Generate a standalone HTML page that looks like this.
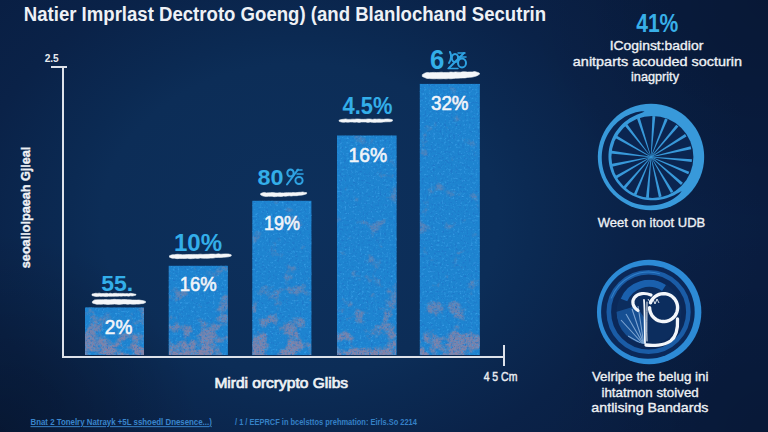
<!DOCTYPE html>
<html><head><meta charset="utf-8">
<style>
html,body{margin:0;padding:0;background:#0a2249;}
body{width:768px;height:432px;overflow:hidden;}
svg{display:block;font-family:"Liberation Sans",sans-serif;}
</style></head>
<body>
<svg width="768" height="432" viewBox="0 0 768 432">
<defs>
<radialGradient id="bg" gradientUnits="userSpaceOnUse" cx="300" cy="220" r="462" gradientTransform="translate(300 220) scale(1 0.788) translate(-300 -220)">
<stop offset="0" stop-color="#0d305c"/>
<stop offset="0.43" stop-color="#0c2d57"/>
<stop offset="0.5" stop-color="#0b2a53"/>
<stop offset="0.714" stop-color="#0a2248"/>
<stop offset="1" stop-color="#091d41"/>
</radialGradient>
<radialGradient id="tr" gradientUnits="userSpaceOnUse" cx="768" cy="0" r="240">
<stop offset="0" stop-color="#000" stop-opacity="0.17"/>
<stop offset="1" stop-color="#000" stop-opacity="0"/>
</radialGradient>
<radialGradient id="br" gradientUnits="userSpaceOnUse" cx="768" cy="432" r="220">
<stop offset="0" stop-color="#000" stop-opacity="0.15"/>
<stop offset="1" stop-color="#000" stop-opacity="0"/>
</radialGradient>
<radialGradient id="bl" gradientUnits="userSpaceOnUse" cx="0" cy="432" r="200">
<stop offset="0" stop-color="#000" stop-opacity="0.25"/>
<stop offset="1" stop-color="#000" stop-opacity="0"/>
</radialGradient>
<linearGradient id="fade" gradientUnits="userSpaceOnUse" x1="0" y1="80" x2="0" y2="355">
<stop offset="0" stop-color="#fff" stop-opacity="0.45"/>
<stop offset="0.7" stop-color="#fff" stop-opacity="0.55"/>
<stop offset="0.88" stop-color="#fff" stop-opacity="0.75"/>
<stop offset="1" stop-color="#fff" stop-opacity="1"/>
</linearGradient>
<filter id="blotch" color-interpolation-filters="sRGB" x="0" y="0" width="768" height="432" filterUnits="userSpaceOnUse">
<feTurbulence type="fractalNoise" baseFrequency="0.06" numOctaves="4" seed="7" result="n"/>
<feColorMatrix in="n" type="matrix" values="0 0 0 0 0  0 0 0 0 0  0 0 0 0 0  1 0 0 0 0" result="na"/>
<feComposite in="na" in2="SourceGraphic" operator="arithmetic" k1="0" k2="6" k3="3.2" k4="-5.5" result="m"/>
<feTurbulence type="fractalNoise" baseFrequency="0.55" numOctaves="1" seed="11" result="n2"/>
<feColorMatrix in="n2" type="matrix" values="0 0 0 0 0  0 0 0 0 0  0 0 0 0 0  0 4 0 0 -1.5" result="s2"/>
<feComposite in="m" in2="s2" operator="arithmetic" k1="0.5" k2="0.75" k3="0" k4="0" result="m2"/>
<feFlood flood-color="#8883a6" result="f"/>
<feComposite in="f" in2="m2" operator="in" result="p"/>
<feComposite in="p" in2="SourceGraphic" operator="in"/>
</filter>
<filter id="grain" color-interpolation-filters="sRGB" x="0" y="0" width="768" height="432" filterUnits="userSpaceOnUse">
<feTurbulence type="fractalNoise" baseFrequency="0.45" numOctaves="2" seed="3" result="n"/>
<feColorMatrix in="n" type="matrix" values="0 0 0 0 0.12  0 0 0 0 0.45  0 0 0 0 0.78  0 0 0 3 -1.65" result="g1"/>
<feColorMatrix in="n" type="matrix" values="0 0 0 0 0.22  0 0 0 0 0.62  0 0 0 0 0.90  0 -3 0 0 1.3" result="g2"/>
<feColorMatrix in="n" type="matrix" values="0 0 0 0 0.50  0 0 0 0 0.47  0 0 0 0 0.64  0 0 -6 0 2.45" result="g3"/>
<feMerge result="g"><feMergeNode in="g1"/><feMergeNode in="g2"/></feMerge>
<feGaussianBlur stdDeviation="0.5"/>
<feComposite in2="SourceGraphic" operator="in"/>
</filter>
</defs>
<rect width="768" height="432" fill="url(#bg)"/>
<rect width="768" height="432" fill="url(#bl)"/>
<rect width="768" height="432" fill="url(#tr)"/>
<rect width="768" height="432" fill="url(#br)"/>

<!-- axes -->
<g fill="#dde2ea">
<rect x="62" y="66" width="2" height="292"/>
<rect x="51" y="66" width="16" height="2"/>
<rect x="62" y="356" width="443" height="2"/>
<rect x="503" y="345" width="2" height="21"/>
</g>

<!-- bars -->

<g fill="#1e84d0">
<rect x="85" y="307.5" width="59" height="47.5"/>
<rect x="168.7" y="265.8" width="59.2" height="89.2"/>
<rect x="252.3" y="200.8" width="59.1" height="154.2"/>
<rect x="337" y="135.5" width="59.6" height="219.5"/>
<rect x="419.8" y="83.9" width="60" height="271.1"/>
</g>
<g fill="url(#fade)" filter="url(#blotch)">
<rect x="85" y="307.5" width="59" height="47.5"/>
<rect x="168.7" y="265.8" width="59.2" height="89.2"/>
<rect x="252.3" y="200.8" width="59.1" height="154.2"/>
<rect x="337" y="135.5" width="59.6" height="219.5"/>
<rect x="419.8" y="83.9" width="60" height="271.1"/>
</g>
<g fill="#fff" filter="url(#grain)">
<rect x="85" y="307.5" width="59" height="47.5"/>
<rect x="168.7" y="265.8" width="59.2" height="89.2"/>
<rect x="252.3" y="200.8" width="59.1" height="154.2"/>
<rect x="337" y="135.5" width="59.6" height="219.5"/>
<rect x="419.8" y="83.9" width="60" height="271.1"/>
</g>

<path d="M92.00,294.06 L93.83,293.63 L95.67,293.27 L97.50,293.38 L99.33,293.14 L101.17,293.54 L103.00,293.52 L104.83,293.39 L106.67,293.30 L108.50,293.66 L110.33,293.24 L112.17,293.71 L114.00,293.36 L115.83,293.27 L117.67,293.48 L119.50,293.39 L121.33,293.38 L123.17,293.42 L125.00,293.69 L126.83,293.58 L128.67,293.75 L130.50,293.31 L132.33,293.59 L134.17,293.88 L136.00,294.36 L136.00,295.09 L134.17,295.58 L132.33,295.98 L130.50,295.85 L128.67,296.16 L126.83,295.88 L125.00,296.11 L123.17,295.89 L121.33,296.15 L119.50,296.07 L117.67,296.24 L115.83,296.13 L114.00,296.26 L112.17,296.27 L110.33,296.37 L108.50,296.13 L106.67,296.61 L104.83,296.51 L103.00,296.16 L101.17,296.38 L99.33,296.18 L97.50,296.56 L95.67,296.39 L93.83,296.02 L92.00,295.53Z" fill="#f4f6f9" stroke="#f4f6f9" stroke-width="0.6" stroke-linejoin="round"/>
<path d="M92.40,301.46 L94.61,299.90 L96.83,299.87 L99.04,299.75 L101.25,299.69 L103.46,299.65 L105.68,299.55 L107.89,299.69 L110.10,299.79 L112.31,299.54 L114.53,299.34 L116.74,299.56 L118.95,299.54 L121.16,299.64 L123.38,299.52 L125.59,299.60 L127.80,299.74 L130.01,299.87 L132.22,300.03 L134.44,300.02 L136.65,300.10 L138.86,299.97 L141.07,300.35 L143.29,300.63 L145.50,301.39 L145.50,302.61 L143.29,303.57 L141.07,303.65 L138.86,304.11 L136.65,304.07 L134.44,304.17 L132.22,304.16 L130.01,303.89 L127.80,304.34 L125.59,303.94 L123.38,303.91 L121.16,304.21 L118.95,304.40 L116.74,304.13 L114.53,304.00 L112.31,304.13 L110.10,304.28 L107.89,304.51 L105.68,304.21 L103.46,304.09 L101.25,304.31 L99.04,304.15 L96.83,304.35 L94.61,303.64 L92.40,302.99Z" fill="#f4f6f9" stroke="#f4f6f9" stroke-width="0.6" stroke-linejoin="round"/>
<path d="M169.50,255.70 L172.07,254.84 L174.64,254.63 L177.21,254.30 L179.78,254.40 L182.35,254.75 L184.93,254.64 L187.50,254.52 L190.07,254.49 L192.64,254.41 L195.21,254.45 L197.78,254.46 L200.35,254.20 L202.92,254.45 L205.49,254.34 L208.06,254.30 L210.63,254.10 L213.20,254.09 L215.77,254.26 L218.35,253.85 L220.92,254.22 L223.49,254.01 L226.06,253.90 L228.63,254.04 L231.20,254.82 L231.20,256.03 L228.63,256.76 L226.06,257.09 L223.49,257.21 L220.92,257.42 L218.35,257.45 L215.77,257.52 L213.20,258.06 L210.63,258.11 L208.06,258.27 L205.49,258.34 L202.92,258.21 L200.35,258.07 L197.78,258.41 L195.21,258.20 L192.64,258.58 L190.07,258.67 L187.50,258.34 L184.93,258.51 L182.35,258.51 L179.78,258.39 L177.21,258.67 L174.64,258.26 L172.07,258.18 L169.50,257.19Z" fill="#f4f6f9" stroke="#f4f6f9" stroke-width="0.6" stroke-linejoin="round"/>
<path d="M260.60,193.62 L262.52,192.86 L264.43,192.44 L266.35,192.90 L268.27,192.86 L270.18,192.77 L272.10,192.61 L274.02,192.65 L275.93,192.96 L277.85,192.94 L279.77,192.69 L281.68,192.89 L283.60,192.94 L285.52,192.77 L287.43,192.69 L289.35,192.63 L291.27,192.81 L293.18,192.56 L295.10,192.68 L297.02,192.60 L298.93,192.33 L300.85,192.29 L302.77,191.98 L304.68,192.44 L306.60,192.60 L306.60,193.84 L304.68,194.38 L302.77,194.93 L300.85,195.17 L298.93,195.32 L297.02,195.69 L295.10,195.69 L293.18,195.68 L291.27,196.08 L289.35,195.79 L287.43,195.93 L285.52,196.26 L283.60,196.04 L281.68,196.49 L279.77,196.42 L277.85,196.25 L275.93,196.58 L274.02,196.66 L272.10,196.25 L270.18,196.33 L268.27,196.29 L266.35,196.55 L264.43,196.31 L262.52,195.83 L260.60,194.85Z" fill="#f4f6f9" stroke="#f4f6f9" stroke-width="0.6" stroke-linejoin="round"/>
<path d="M339.10,120.15 L341.32,119.55 L343.54,119.29 L345.76,118.94 L347.98,119.41 L350.20,119.39 L352.43,119.18 L354.65,119.22 L356.87,118.96 L359.09,119.09 L361.31,119.33 L363.53,119.35 L365.75,119.26 L367.97,118.95 L370.19,119.05 L372.41,119.43 L374.63,119.08 L376.85,119.20 L379.07,119.02 L381.30,119.26 L383.52,119.35 L385.74,119.07 L387.96,118.95 L390.18,119.25 L392.40,119.76 L392.40,121.08 L390.18,121.76 L387.96,121.76 L385.74,121.85 L383.52,121.95 L381.30,122.31 L379.07,122.33 L376.85,122.22 L374.63,122.38 L372.41,122.35 L370.19,122.04 L367.97,122.38 L365.75,122.01 L363.53,122.02 L361.31,122.04 L359.09,122.41 L356.87,122.06 L354.65,122.23 L352.43,122.05 L350.20,121.97 L347.98,122.22 L345.76,122.11 L343.54,122.32 L341.32,122.06 L339.10,121.23Z" fill="#f4f6f9" stroke="#f4f6f9" stroke-width="0.6" stroke-linejoin="round"/>
<path d="M422.30,74.64 L424.68,73.19 L427.06,72.44 L429.44,72.63 L431.82,72.53 L434.20,72.42 L436.57,72.60 L438.95,72.46 L441.33,72.24 L443.71,72.49 L446.09,72.44 L448.47,72.42 L450.85,72.00 L453.23,72.31 L455.61,71.91 L457.99,72.13 L460.37,72.25 L462.75,71.83 L465.12,71.87 L467.50,72.10 L469.88,71.93 L472.26,71.97 L474.64,71.54 L477.02,72.16 L479.40,73.11 L479.40,74.33 L477.02,75.78 L474.64,76.51 L472.26,77.12 L469.88,77.27 L467.50,77.43 L465.12,77.88 L462.75,77.95 L460.37,78.11 L457.99,78.13 L455.61,78.23 L453.23,78.47 L450.85,78.75 L448.47,78.59 L446.09,78.82 L443.71,78.64 L441.33,78.79 L438.95,78.84 L436.57,78.67 L434.20,78.80 L431.82,78.70 L429.44,78.59 L427.06,78.41 L424.68,77.60 L422.30,76.47Z" fill="#f4f6f9" stroke="#f4f6f9" stroke-width="0.6" stroke-linejoin="round"/>
<circle cx="651.0" cy="157.0" r="53.2" fill="#3899da"/>
<path d="M644.61,111.55 L641.66,111.36 L638.75,111.72 L635.88,112.33 L633.05,113.16 L630.27,114.19 L627.57,115.41 L624.94,116.82 L622.41,118.40 L619.97,120.16 L617.66,122.07 L615.46,124.13 L613.41,126.34 L611.49,128.68 L609.72,131.14 L608.12,133.72 L606.68,136.40 L605.42,139.17 L604.33,142.02 L603.43,144.93 L602.72,147.91 L602.19,150.92 L601.86,153.97 L601.73,157.03 L601.79,160.10 L602.05,163.15 L602.51,166.19 L603.15,169.20 L603.99,172.15 L605.02,175.05 L606.23,177.88 L607.62,180.62 L609.18,183.27 L610.90,185.81 L612.79,188.24 L614.82,190.54 L617.00,192.71 L619.31,194.72 L621.74,196.59 L624.28,198.30 L626.93,199.83 L629.67,201.20 L632.48,202.38 L635.36,203.38 L638.30,204.19 L641.27,204.81 L644.28,205.24 L647.30,205.47 L650.32,205.51 L653.34,205.35 L656.33,205.00 L659.28,204.45 L662.19,203.71 L665.03,202.79 L667.80,201.68 L670.47,200.40 L673.05,198.93 L675.50,197.30 L677.82,195.49 L679.96,193.50 L681.71,191.11 L681.71,191.11 L679.10,192.41 L676.66,193.83 L674.19,195.14 L671.67,196.32 L669.11,197.36 L666.50,198.25 L663.86,198.98 L661.19,199.56 L658.50,199.98 L655.80,200.24 L653.09,200.34 L650.40,200.28 L647.71,200.06 L645.05,199.68 L642.43,199.14 L639.84,198.45 L637.31,197.61 L634.83,196.61 L632.43,195.47 L630.10,194.20 L627.85,192.78 L625.70,191.23 L623.64,189.56 L621.69,187.77 L619.86,185.87 L618.14,183.86 L616.55,181.76 L615.09,179.56 L613.76,177.28 L612.57,174.92 L611.53,172.49 L610.63,170.01 L609.89,167.48 L609.30,164.90 L608.87,162.30 L608.59,159.67 L608.47,157.02 L608.51,154.38 L608.71,151.73 L609.07,149.10 L609.59,146.50 L610.26,143.92 L611.09,141.39 L612.07,138.90 L613.20,136.48 L614.48,134.12 L615.90,131.84 L617.45,129.64 L619.14,127.53 L620.96,125.53 L622.89,123.62 L624.95,121.83 L627.11,120.16 L629.37,118.61 L631.72,117.18 L634.17,115.89 L636.69,114.72 L639.28,113.67 L641.94,112.71 L644.61,111.55Z" fill="#0a2450"/>
<circle cx="652.4" cy="157.0" r="41.0" fill="#0b2550"/>
<path d="M655.31,116.20 L652.41,116.00 L650.80,156.99 L651.20,157.01Z" fill="#3899da"/>
<path d="M667.70,119.53 L665.01,118.44 L650.81,156.93 L651.19,157.07Z" fill="#3899da"/>
<path d="M678.47,126.52 L676.24,124.66 L650.85,156.87 L651.15,157.13Z" fill="#3899da"/>
<path d="M686.54,136.50 L685.00,134.04 L650.89,156.83 L651.11,157.17Z" fill="#3899da"/>
<path d="M691.28,149.19 L690.62,146.36 L650.96,156.81 L651.04,157.19Z" fill="#3899da"/>
<path d="M691.72,162.02 L691.97,159.13 L651.02,156.80 L650.98,157.20Z" fill="#3899da"/>
<path d="M688.17,174.35 L689.31,171.69 L651.08,156.82 L650.92,157.18Z" fill="#3899da"/>
<path d="M680.99,184.99 L682.89,182.80 L651.13,156.85 L650.87,157.15Z" fill="#3899da"/>
<path d="M670.87,192.89 L673.36,191.40 L651.17,156.90 L650.83,157.10Z" fill="#3899da"/>
<path d="M658.81,197.28 L661.64,196.62 L651.19,156.96 L650.81,157.04Z" fill="#3899da"/>
<path d="M645.98,197.72 L648.87,197.97 L651.20,157.02 L650.80,156.98Z" fill="#3899da"/>
<path d="M633.65,194.17 L636.31,195.31 L651.18,157.08 L650.82,156.92Z" fill="#3899da"/>
<path d="M623.01,186.99 L625.20,188.89 L651.15,157.13 L650.85,156.87Z" fill="#3899da"/>
<path d="M614.77,176.24 L616.22,178.76 L651.10,157.17 L650.90,156.83Z" fill="#3899da"/>
<path d="M610.59,164.11 L611.20,166.94 L651.04,157.20 L650.96,156.80Z" fill="#3899da"/>
<path d="M610.48,150.56 L610.13,153.44 L650.98,157.20 L651.02,156.80Z" fill="#3899da"/>
<path d="M616.22,135.24 L614.77,137.76 L650.90,157.17 L651.10,156.83Z" fill="#3899da"/>
<path d="M626.90,123.80 L624.62,125.58 L650.84,157.12 L651.16,156.88Z" fill="#3899da"/>
<path d="M639.71,117.56 L636.95,118.45 L650.81,157.06 L651.19,156.94Z" fill="#3899da"/>
<circle cx="649.15" cy="312" r="52.2" fill="#2d8bd6"/>
<circle cx="647.9" cy="312" r="46.8" fill="#0b2858"/>
<circle cx="648.6" cy="312" r="39.8" fill="none" stroke="#1a5ca6" stroke-width="4.6"/>
<circle cx="648.6" cy="312" r="39.8" fill="none" stroke="#3a8fd8" stroke-width="1" stroke-dasharray="60 200" transform="rotate(200 648.6 312)" opacity="0.7"/>
<circle cx="649" cy="312" r="32.5" fill="#0c2d5e"/>
<clipPath id="ic2"><circle cx="649" cy="312" r="32.5"/></clipPath>
<g clip-path="url(#ic2)">
<path d="M624,300 A27,27 0 0 1 664,288" fill="none" stroke="#1a60ad" stroke-width="7"/>
<path d="M616,312 L636,306 L646,320 L646,348 L622,348 Z" fill="#1b5eaa" opacity="0.7"/>
<g stroke="#a9c9ec" stroke-width="1.1" opacity="0.7" fill="none"><path d="M644,345 L621,320"/><path d="M644,345 L626,314"/><path d="M644,345 L632,309"/><path d="M644,345 L638,306"/><path d="M644,345 L628,336"/></g>
</g>
<g fill="none" stroke="#f3f6fa" stroke-linecap="round">
<path d="M650.44,302.81 L651.30,300.92 L652.42,299.17 L653.79,297.61 L655.37,296.27 L657.14,295.18 L659.04,294.36 L661.05,293.83 L663.11,293.61 L665.18,293.69 L667.22,294.08 L669.18,294.76 L671.02,295.73 L672.69,296.95 L674.17,298.42 L675.41,300.08 L676.39,301.91 L677.09,303.86 L677.50,305.89 L677.60,307.97 L677.39,310.03 L676.88,312.04 L676.07,313.96 L675.00,315.73 L673.67,317.33 L672.12,318.71 L670.39,319.84 L668.50,320.71 L666.51,321.29 L664.45,321.57 L662.38,321.55 L660.33,321.21 L658.36,320.58 L656.49,319.66 L654.79,318.48 L653.28,317.06 L651.99,315.43 L650.96,313.63 L650.21,311.69 L649.75,309.67 L649.60,307.60" stroke-width="3.4"/>
<path d="M651,295 C645,292.5 638,293 634.5,297.5 C631.5,301.5 632.5,307 638,310.5" stroke-width="3.2"/>
<path d="M644,300 C645,312 644.5,330 645,343" stroke-width="1.8"/>
<path d="M647,302 C647,314 646.5,330 647,341" stroke-width="1"/>
<path d="M646,345 C653,346 664,345.5 670.5,341 C676,337 678,329 677.5,319" stroke-width="3.3"/>
</g>
<path d="M648,299 l3,5 l2,-5 l2,5 l2,-5 l2,4" fill="none" stroke="#f3f6fa" stroke-width="0.9"/>
<text x="23.79" y="20.80" font-size="20" font-weight="700" fill="#eef1f6" textLength="522.34" lengthAdjust="spacingAndGlyphs">Natier Imprlast Dectroto Goeng) (and Blanlochand Secutrin</text>
<text x="44.63" y="62.20" font-size="11.5" font-weight="700" fill="#e8ebf0" textLength="14.13" lengthAdjust="spacingAndGlyphs">2.5</text>
<text x="483.63" y="380.70" font-size="12" font-weight="400" fill="#e8ebf0" textLength="33.78" lengthAdjust="spacingAndGlyphs" stroke="#e8ebf0" stroke-width="0.45">4 5 Cm</text>
<text x="214.40" y="388.10" font-size="14.2" font-weight="400" fill="#eef1f5" textLength="133.65" lengthAdjust="spacingAndGlyphs" stroke="#eef1f5" stroke-width="0.7">Mirdi orcrypto Glibs</text>
<text x="101.17" y="291.00" font-size="21.8" font-weight="700" fill="#33aee9" textLength="31.97" lengthAdjust="spacingAndGlyphs">55.</text>
<text x="173.90" y="250.70" font-size="24" font-weight="700" fill="#33aee9" textLength="48.14" lengthAdjust="spacingAndGlyphs">10%</text>
<text x="257.47" y="185.40" font-size="22.5" font-weight="700" fill="#33aee9" textLength="25.97" lengthAdjust="spacingAndGlyphs">80</text>
<text x="342.52" y="114.00" font-size="23.8" font-weight="700" fill="#33aee9" textLength="49.89" lengthAdjust="spacingAndGlyphs">4.5%</text>
<text x="430.09" y="69.00" font-size="27" font-weight="700" fill="#33aee9" textLength="14.35" lengthAdjust="spacingAndGlyphs">6</text>
<text x="104.85" y="333.90" font-size="20" font-weight="400" fill="#f2f5fa" textLength="27.50" lengthAdjust="spacingAndGlyphs" stroke="#f2f5fa" stroke-width="0.6">2%</text>
<text x="179.78" y="291.30" font-size="19.5" font-weight="400" fill="#f2f5fa" textLength="36.93" lengthAdjust="spacingAndGlyphs" stroke="#f2f5fa" stroke-width="0.6">16%</text>
<text x="264.11" y="229.50" font-size="19.5" font-weight="400" fill="#f2f5fa" textLength="35.98" lengthAdjust="spacingAndGlyphs" stroke="#f2f5fa" stroke-width="0.6">19%</text>
<text x="348.51" y="162.30" font-size="19.5" font-weight="400" fill="#f2f5fa" textLength="38.62" lengthAdjust="spacingAndGlyphs" stroke="#f2f5fa" stroke-width="0.6">16%</text>
<text x="431.03" y="110.20" font-size="19.5" font-weight="400" fill="#f2f5fa" textLength="37.49" lengthAdjust="spacingAndGlyphs" stroke="#f2f5fa" stroke-width="0.6">32%</text>
<text x="636.15" y="32.30" font-size="25.3" font-weight="700" fill="#38afe8" textLength="42.25" lengthAdjust="spacingAndGlyphs">41%</text>
<text x="609.68" y="49.50" font-size="12.5" font-weight="400" fill="#eef1f5" textLength="93.61" lengthAdjust="spacingAndGlyphs" stroke="#eef1f5" stroke-width="0.35">ICoginst:badior</text>
<text x="572.85" y="65.80" font-size="13.2" font-weight="400" fill="#eef1f5" textLength="169.17" lengthAdjust="spacingAndGlyphs" stroke="#eef1f5" stroke-width="0.35">anitparts acouded socturin</text>
<text x="631.03" y="81.40" font-size="13.2" font-weight="400" fill="#eef1f5" textLength="47.97" lengthAdjust="spacingAndGlyphs" stroke="#eef1f5" stroke-width="0.35">inagprity</text>
<text x="597.70" y="227.30" font-size="13.5" font-weight="400" fill="#eef1f5" textLength="107.58" lengthAdjust="spacingAndGlyphs" stroke="#eef1f5" stroke-width="0.35">Weet on itoot UDB</text>
<text x="591.90" y="380.80" font-size="13.5" font-weight="400" fill="#eef1f5" textLength="116.49" lengthAdjust="spacingAndGlyphs" stroke="#eef1f5" stroke-width="0.35">Velripe the belug ini</text>
<text x="601.41" y="396.50" font-size="13.5" font-weight="400" fill="#eef1f5" textLength="97.39" lengthAdjust="spacingAndGlyphs" stroke="#eef1f5" stroke-width="0.35">ihtatmon stoived</text>
<text x="591.37" y="412.00" font-size="13.5" font-weight="400" fill="#eef1f5" textLength="117.10" lengthAdjust="spacingAndGlyphs" stroke="#eef1f5" stroke-width="0.35">antlising Bandards</text>
<text x="30.50" y="425.20" font-size="9.5" font-weight="700" fill="#3a85cc" textLength="181.28" lengthAdjust="spacingAndGlyphs" text-decoration="underline">Bnat 2 Tonelry Natrayk +5L sshoedl Dnesence...)</text>
<text x="235.00" y="425.40" font-size="9.5" font-weight="700" fill="#3580c6" textLength="181.89" lengthAdjust="spacingAndGlyphs">/ 1 / EEPRCF in bcelsttos prehmation: Eirls.So 2214</text>
<text transform="translate(30.3 268.17) rotate(-90)" x="0" y="0" font-size="13.5" font-weight="700" fill="#eef1f5" stroke="#eef1f5" stroke-width="0.45" textLength="121.56" lengthAdjust="spacingAndGlyphs">seoallolpaeah Gjleal</text>
<g fill="none" stroke="#2ea2e2" stroke-width="2" stroke-linecap="round"><ellipse cx="290.5" cy="173" rx="3.2" ry="3.6"/><path d="M287,184.5 L298,169.5"/><ellipse cx="299" cy="180.5" rx="3.6" ry="3.4"/><path d="M297,170 h5 M297,174 h6" stroke-width="1.6"/></g>
<g fill="none" stroke="#2ea2e2" stroke-width="2" stroke-linecap="round"><path d="M450,52 C452,56 451,60 449,63"/><ellipse cx="455" cy="58" rx="3.2" ry="4"/><path d="M449,68 L464,53"/><ellipse cx="462" cy="63" rx="4" ry="4.5"/><path d="M458,53 h7 M458,57 h8" stroke-width="1.6"/><path d="M448,68.5 h10" stroke-width="1.4"/></g>
</svg>
</body></html>
